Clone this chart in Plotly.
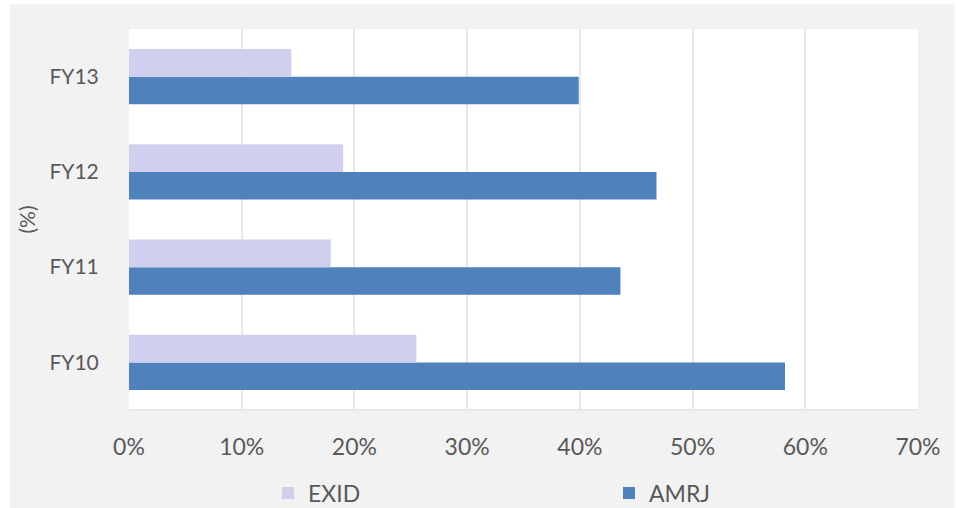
import plotly.graph_objects as go

categories = ["FY10", "FY11", "FY12", "FY13"]
exid = [25.5, 17.9, 19.0, 14.4]
amrj = [58.2, 43.6, 46.8, 39.9]
x_ticks = [0, 10, 20, 30, 40, 50, 60, 70]
x_tick_labels = ["0%", "10%", "20%", "30%", "40%", "50%", "60%", "70%"]

W, H = 964, 508
L, R, T, B = 129, 46, 29, 98
pw, ph = W - L - R, H - T - B

def px(x):
    return (x - L) / pw

def py(y):
    return 1 - (y - T) / ph

fig = go.Figure()
fig.add_trace(go.Bar(y=categories, x=amrj, name="AMRJ", orientation="h",
                     marker=dict(color="#4F81BD", line=dict(width=0))))
fig.add_trace(go.Bar(y=categories, x=exid, name="EXID", orientation="h",
                     marker=dict(color="#D0D0EE", line=dict(width=0))))

font = dict(family="Lato, 'Open Sans', sans-serif", size=23, color="#595959")
yfont = dict(family="Lato, 'Open Sans', sans-serif", size=21, color="#595959")

fig.update_layout(
    width=W, height=H,
    margin=dict(l=L, r=R, t=T, b=B, autoexpand=False),
    paper_bgcolor="#F2F2F2",
    plot_bgcolor="#FFFFFF",
    barmode="group",
    bargap=0.42,
    bargroupgap=0,
    font=font,
    showlegend=True,
    legend=dict(orientation="h", traceorder="reversed", x=px(268), y=py(493),
                xanchor="left", yanchor="middle", entrywidth=296,
                font=font, bgcolor="rgba(0,0,0,0)"),
    xaxis=dict(range=[0, 70], tickvals=x_ticks, ticktext=x_tick_labels,
               showgrid=True, gridcolor="#E8E8E8", gridwidth=2,
               zeroline=False, showline=False, ticks="outside", ticklen=16,
               tickcolor="rgba(0,0,0,0)", automargin=False,
               tickfont=font, fixedrange=True),
    yaxis=dict(showgrid=False, zeroline=False, showline=False, ticks="outside",
               ticklen=25, tickcolor="rgba(0,0,0,0)", automargin=False,
               tickfont=yfont, title=dict(text="(%)", font=yfont, standoff=8)),
)

# bottom border line of plot area
fig.add_shape(type="line", xref="paper", yref="paper", x0=0, x1=1, y0=py(410), y1=py(410),
              line=dict(color="#E8E8E8", width=2))
# white outer strips
for (x0, x1, y0, y1) in [(0, 10, 0, H), (955, W, 0, H), (0, W, 0, 4)]:
    fig.add_shape(type="rect", xref="paper", yref="paper",
                  x0=px(x0), x1=px(x1), y0=py(y1), y1=py(y0),
                  fillcolor="#FFFFFF", line=dict(width=0), layer="above")

fig.write_html("out.html")
